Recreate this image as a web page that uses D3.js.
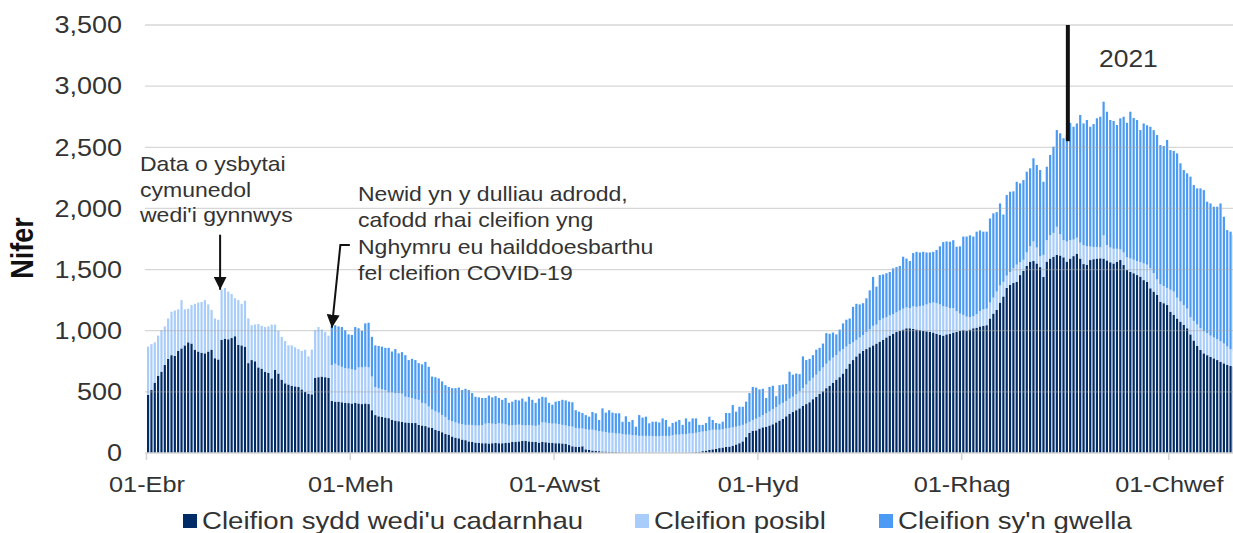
<!DOCTYPE html>
<html lang="cy">
<head>
<meta charset="UTF-8">
<title>Cleifion COVID-19 mewn ysbytai</title>
<script src="https://d3js.org/d3.v7.min.js"></script>
<style>
  body { margin: 0; background: #fff; }
  svg { display: block; font-family: "Liberation Sans", Arial, sans-serif; }
</style>
</head>
<body>
<svg id="chart" width="1233" height="533"></svg>
<script>
    // one bar per day, starting on 1 April 2020
    const startDate = new Date(2020, 3, 1);

    // daily values, rows of ten days
    const confirmed = [
        475,515,575,630,665,720,770,800,795,835,
        855,880,905,895,845,830,820,815,830,845,
        775,765,925,935,930,940,955,885,880,870,
        735,760,750,700,690,665,655,610,680,650,
        600,570,560,550,545,540,520,500,485,480,
        615,620,625,620,615,425,420,420,415,410,
        408,405,410,405,400,405,400,350,310,300,
        295,290,285,270,265,260,255,250,248,245,
        245,230,225,220,210,205,190,180,170,155,
        150,135,125,120,110,105,95,90,85,82,
        80,80,78,80,82,80,80,82,85,90,
        92,95,98,100,95,92,90,85,90,88,
        85,82,80,80,78,75,65,55,52,50,
        55,30,25,20,18,15,12,12,10,10,
        8,6,5,5,5,4,4,4,4,4,
        4,4,3,3,3,3,3,4,4,4,
        5,5,5,6,8,10,15,20,25,30,
        35,40,45,50,52,60,70,80,95,130,
        165,180,185,200,210,215,225,235,250,265,
        280,300,320,335,350,365,385,400,415,440,
        460,485,505,530,550,575,600,620,650,690,
        730,760,790,815,835,850,865,880,895,910,
        925,945,960,975,990,1000,1010,1020,1020,1015,
        1010,1005,1000,995,990,985,975,965,960,970,
        975,985,990,1000,1005,1000,1010,1020,1025,1035,
        1040,1045,1100,1140,1170,1230,1280,1350,1375,1390,
        1400,1455,1490,1530,1564,1570,1550,1520,1440,1565,
        1590,1605,1620,1615,1600,1565,1590,1610,1630,1590,
        1545,1540,1578,1585,1590,1592,1590,1575,1560,1550,
        1564,1578,1537,1496,1482,1470,1455,1442,1414,1400,
        1347,1320,1292,1237,1225,1210,1155,1130,1100,1074,
        1047,1020,970,920,875,842,815,800,785,774,
        760,745,733,720,712,706
    ];

    const suspected = [
        395,375,330,330,340,315,330,355,370,340,
        395,295,275,315,375,400,415,435,385,325,
        325,325,410,415,390,360,310,365,340,375,
        365,285,300,355,350,365,380,440,370,350,
        350,345,320,330,320,310,315,345,305,365,
        390,410,385,370,345,295,310,295,290,285,
        282,280,270,295,300,300,300,275,230,230,
        225,225,210,225,225,230,230,210,207,205,
        195,205,185,185,170,150,150,150,140,140,
        120,125,125,120,125,125,135,138,140,143,
        148,160,167,160,153,165,160,153,140,138,
        138,137,130,125,133,133,132,145,160,160,
        160,158,160,155,152,150,155,160,153,150,
        145,165,165,170,167,165,163,158,155,155,
        152,154,150,145,145,141,141,136,136,136,
        136,134,135,135,137,137,137,141,146,146,
        150,150,155,154,157,160,160,160,160,160,
        155,150,150,150,153,150,145,142,135,110,
        90,90,95,95,100,110,115,125,125,130,
        130,125,125,125,130,140,145,160,175,175,
        180,185,195,200,205,205,200,210,200,180,
        160,145,135,130,130,140,145,160,155,175,
        175,165,165,160,160,165,170,170,165,185,
        185,195,205,220,235,245,250,250,240,225,
        210,200,170,140,125,115,100,100,110,125,
        135,135,130,130,150,140,120,100,105,120,
        140,105,90,110,126,160,130,90,180,175,
        190,195,230,175,140,165,150,135,130,130,
        155,150,110,100,95,90,190,125,120,120,
        106,87,103,104,108,110,115,118,136,140,
        163,150,128,143,140,140,180,190,170,166,
        163,160,140,160,175,178,180,180,175,171,
        170,170,162,150,138,124
    ];

    const recovering = [
        0,0,0,0,0,0,0,0,0,0,
        0,0,0,0,0,0,0,0,0,0,
        0,0,0,0,0,0,0,0,0,0,
        0,0,0,0,0,0,0,0,0,0,
        0,0,0,0,0,0,0,0,0,0,
        0,0,0,0,0,320,315,320,325,310,
        280,280,350,320,300,355,365,325,340,345,
        350,345,365,335,360,325,340,340,305,320,
        320,300,315,340,325,270,280,280,275,260,
        270,270,280,295,280,295,285,262,235,230,
        222,210,225,215,230,205,195,215,185,192,
        205,198,217,195,232,210,188,215,210,207,
        165,155,180,190,205,205,200,200,145,138,
        127,115,107,145,140,90,190,160,185,165,
        165,165,100,150,105,125,70,170,150,157,
        103,118,118,112,143,130,75,100,106,120,
        75,128,96,123,118,60,55,65,112,80,
        55,50,61,127,122,182,123,156,148,180,
        235,270,255,225,215,125,200,190,90,160,
        150,140,220,180,170,140,260,200,180,185,
        205,190,195,250,220,205,170,180,210,220,
        210,290,295,270,260,275,320,400,310,370,
        360,360,355,375,370,365,425,400,385,435,
        450,440,440,425,415,415,435,475,525,535,
        543,555,527,550,640,655,670,650,675,660,
        635,630,688,690,650,671,550,660,657,630,
        678,645,652,660,638,680,675,704,598,601,
        657,705,791,824,835,870,960,923,935,1044,
        995,1033,980,1005,1052,1068,1093,1091,1043,1045,
        1012,1072,1110,1100,1201,1160,1153,1081,1145,1140,
        1158,1170,1180,1138,1145,1210,1142,1150,1180,1129,
        1104,1107,1150,1111,1114,1144,1155,1075,1081,1069,
        1084,1126,1037,953,960,952
    ];

    const seriesKeys = ["confirmed", "suspected", "recovering"];
    const seriesLabels = ["Cleifion sydd wedi'u cadarnhau", "Cleifion posibl", "Cleifion sy'n gwella"];
    const seriesColors = ["#002b66", "#a9cdfb", "#4b9bf5"];

    const yTicks = [0, 500, 1000, 1500, 2000, 2500, 3000, 3500];
    const monthTicks = [new Date(2020, 3, 1), new Date(2020, 5, 1), new Date(2020, 7, 1),
                        new Date(2020, 9, 1), new Date(2020, 11, 1), new Date(2021, 1, 1)];
    const monthLabels = ["01-Ebr", "01-Meh", "01-Awst", "01-Hyd", "01-Rhag", "01-Chwef"];

    const yearMark = new Date(2021, 0, 1);
    const note1 = ["Data o ysbytai", "cymunedol", "wedi'i gynnwys"];
    const note2 = ["Newid yn y dulliau adrodd,", "cafodd rhai cleifion yng",
                   "Nghymru eu hailddoesbarthu", "fel cleifion COVID-19"];

    // table for the stack
    const rows = confirmed.map(function(c, i) {
        return { day: i, confirmed: c, suspected: suspected[i], recovering: recovering[i] };
    });

    const svg = d3.select("#chart");
    const SX = 1.15;   // the picture is a little wider than it is tall, text too

    const x = d3.scaleBand()
        .domain(rows.map(d => d.day))
        .range([147, 1235])
        .paddingInner(0.34)
        .paddingOuter(0);

    const y = d3.scaleLinear().domain([0, 3500]).range([453, 25]);

    const dayIndex = date => d3.timeDay.count(startDate, date);

    // stretched text helper
    function label(parent, px, py, str, size, anchor, weight) {
        return parent.append("text")
            .attr("transform", "translate(" + px + "," + py + ") scale(" + SX + ",1)")
            .attr("text-anchor", anchor || "start")
            .attr("font-size", size)
            .attr("font-weight", weight || "normal")
            .attr("fill", "#333")
            .text(str);
    }

    // bars
    const stacked = d3.stack().keys(seriesKeys)(rows);
    svg.append("g").selectAll("g")
        .data(stacked)
        .join("g")
        .attr("fill", (d, i) => seriesColors[i])
        .selectAll("rect")
        .data(d => d)
        .join("rect")
        .attr("x", d => x(d.data.day))
        .attr("width", x.bandwidth())
        .attr("y", d => y(d[1]))
        .attr("height", d => y(d[0]) - y(d[1]));

    // gridlines, drawn over the bars as in the picture
    svg.append("g").selectAll("line")
        .data(yTicks.filter(v => v > 0))
        .join("line")
        .attr("x1", 145).attr("x2", 1233)
        .attr("y1", d => y(d)).attr("y2", d => y(d))
        .attr("stroke", "#a6a6a6")
        .attr("stroke-opacity", 0.45)
        .attr("stroke-width", 1.3);

    // x axis line and ticks
    svg.append("line")
        .attr("x1", 145).attr("x2", 1233)
        .attr("y1", y(0)).attr("y2", y(0))
        .attr("stroke", "#d4d4d4").attr("stroke-width", 1.5);

    svg.append("g").selectAll("line")
        .data(monthTicks)
        .join("line")
        .attr("x1", d => x(dayIndex(d)) - 0.5).attr("x2", d => x(dayIndex(d)) - 0.5)
        .attr("y1", y(0)).attr("y2", y(0) + 7)
        .attr("stroke", "#d4d4d4").attr("stroke-width", 1.5);

    const axisText = svg.append("g");
    yTicks.forEach(function(v) {
        label(axisText, 122, y(v) + 8.3, d3.format(",")(v), 23.5, "end");
    });
    monthTicks.forEach(function(d, i) {
        label(axisText, x(dayIndex(d)), 492, monthLabels[i], 22, "middle");
    });

    // axis title
    svg.append("text")
        .attr("transform", "translate(33,248) scale(" + SX + ",1) rotate(-90)")
        .attr("text-anchor", "middle")
        .attr("font-size", 27)
        .attr("font-weight", "bold")
        .attr("fill", "#111")
        .text("Nifer");

    // arrow heads
    svg.append("defs").append("marker")
        .attr("id", "head")
        .attr("markerUnits", "userSpaceOnUse")
        .attr("viewBox", "0 0 12 12")
        .attr("refX", 12).attr("refY", 6)
        .attr("markerWidth", 13).attr("markerHeight", 13)
        .attr("orient", "auto")
        .append("path")
        .attr("d", "M0,0L12,6L0,12Z")
        .attr("fill", "#111");

    // note 1: community hospitals
    const notes = svg.append("g");
    note1.forEach(function(s, i) {
        label(notes, 140, 171 + i * 25.5, s, 20, "start");
    });
    const tip1 = [x(22) + x.bandwidth() / 2 - 1.5, y(1335)];
    notes.append("path")
        .attr("d", d3.line()([[tip1[0], y(1785)], tip1]))
        .attr("stroke", "#111").attr("stroke-width", 2)
        .attr("fill", "none")
        .attr("marker-end", "url(#head)");

    // note 2: change in reporting
    note2.forEach(function(s, i) {
        label(notes, 358, 201 + i * 26.3, s, 20, "start");
    });
    const tip2 = [x(55) + x.bandwidth() / 2, y(1025)];
    notes.append("path")
        .attr("d", d3.line()([[tip2[0] + 18, y(1700)], [tip2[0] + 8.5, y(1700)], tip2]))
        .attr("stroke", "#111").attr("stroke-width", 2)
        .attr("fill", "none")
        .attr("marker-end", "url(#head)");

    // start of 2021
    const yearX = x(dayIndex(yearMark)) + x.bandwidth() / 2 + 1;
    svg.append("line")
        .attr("x1", yearX).attr("x2", yearX)
        .attr("y1", y(3500)).attr("y2", y(2550))
        .attr("stroke", "#111").attr("stroke-width", 4);
    label(svg, 1099, 67, "2021", 23, "start");

    // legend
    const legendX = [183, 635, 879];
    const legend = svg.append("g");
    seriesLabels.forEach(function(s, i) {
        legend.append("rect")
            .attr("x", legendX[i]).attr("y", 514)
            .attr("width", 14).attr("height", 14)
            .attr("fill", seriesColors[i]);
        label(legend, legendX[i] + 19, 529, s, 24, "start");
    });
</script>
</body>
</html>
